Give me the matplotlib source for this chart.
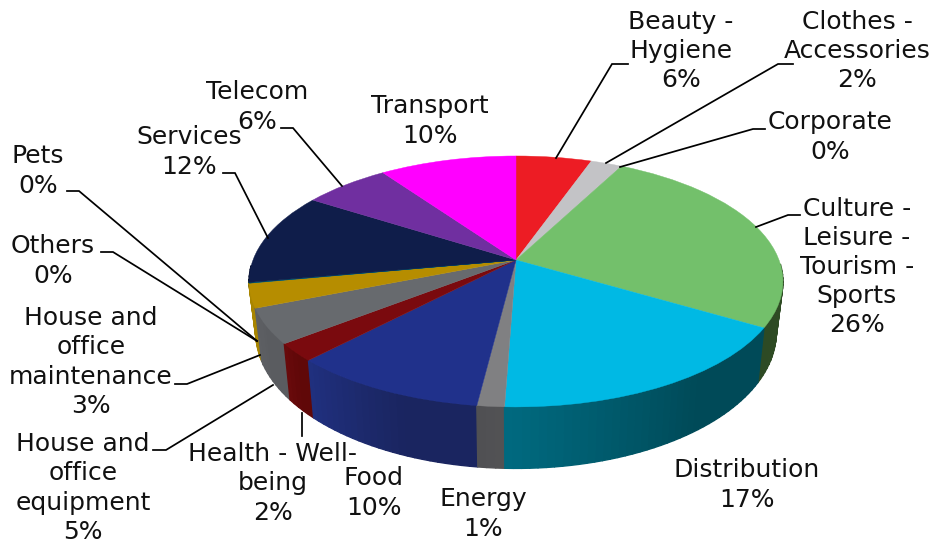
import numpy as np
import matplotlib
matplotlib.use("Agg")
import matplotlib.pyplot as plt
from matplotlib.transforms import Transform
from matplotlib.collections import PolyCollection

categories = ["Beauty - Hygiene", "Clothes - Accessories", "Corporate",
              "Culture - Leisure - Tourism - Sports", "Distribution", "Energy",
              "Food", "Health - Well-being", "House and office equipment",
              "House and office maintenance", "Others", "Pets", "Services",
              "Telecom", "Transport"]
values = [5.4, 2.2, 0.05, 25.9, 17.1, 1.4, 10.2, 2.3, 4.5, 3.1, 0.05, 0.05, 11.9, 6.2, 9.8]
percent_labels = ["6%", "2%", "0%", "26%", "17%", "1%", "10%", "2%", "5%", "3%", "0%", "0%", "12%", "6%", "10%"]

# styles
top_colors = ["#ed1c24", "#c3c3c6", "#c3c3c6", "#73c06b", "#00b9e4", "#808082", "#20318b",
              "#7a0a0e", "#676a6e", "#b68d00", "#005a70", "#005a70", "#0f1d4a", "#702fa0", "#ff00ff"]
wall_left = ["#8a1015", "#777777", "#777777", "#2d4a24", "#006a80", "#4f4f52", "#20307f",
             "#6a0a0c", "#5e6064", "#a88500", "#003a48", "#003a48", "#0a1230", "#451c66", "#990099"]
wall_right = ["#8a1015", "#777777", "#777777", "#334f26", "#004a58", "#525254", "#1a2560",
              "#600808", "#5a5c60", "#a88500", "#003a48", "#003a48", "#0a1230", "#451c66", "#990099"]

CX, CY, RX, RY_SCALE, K = 516.0, 260.0, 263.0, 121.8, 0.171
WALL_X, WALL_Y, WALL_D = 0.975, 1.085, 49.0


class Perspective(Transform):
    input_dims = output_dims = 2
    is_separable = False
    has_inverse = False

    def transform_non_affine(self, pts):
        pts = np.asarray(pts, float)
        u, v = pts[:, 0], pts[:, 1]
        w = 1 + K * v
        return np.column_stack([CX + RX * u / w, CY - RY_SCALE * v / w])


persp = Perspective()

fig = plt.figure(figsize=(9.31, 5.42), dpi=100)
ax = fig.add_axes([0, 0, 1, 1])
wedges, _ = ax.pie(values, colors=top_colors, startangle=90, counterclock=False,
                   radius=1, wedgeprops=dict(linewidth=0.3))
ax.set_aspect("auto")
ax.set_xlim(0, 931)
ax.set_ylim(542, 0)
ax.axis("off")

for w in wedges:
    w.set_transform(persp + ax.transData)
    w.set_zorder(5)
    w.set_edgecolor(w.get_facecolor())

# side wall
quads, cols, keys = [], [], []
for w, c0, c1 in zip(wedges, wall_left, wall_right):
    n = max(2, int((w.theta2 - w.theta1) / 1.5))
    t = np.radians(np.linspace(w.theta1, w.theta2, n + 1))
    top = persp.transform_non_affine(np.column_stack([np.cos(t), np.sin(t)]))
    bot = np.column_stack([CX + WALL_X * (top[:, 0] - CX),
                           CY + WALL_D + WALL_Y * (top[:, 1] - CY)])
    a, b = np.array(matplotlib.colors.to_rgb(c0)), np.array(matplotlib.colors.to_rgb(c1))
    for i in range(n):
        if np.sin(t[i]) > -0.02 or np.sin(t[i + 1]) > -0.02:
            continue
        f = min(1.0, (i + 0.5) / n * 1.6)
        quads.append([top[i], top[i + 1], bot[i + 1], bot[i]])
        cols.append(a * (1 - f) + b * f)
        keys.append(top[i, 1])
order = np.argsort(keys)
ax.add_collection(PolyCollection([quads[i] for i in order],
                                 facecolors=[cols[i] for i in order],
                                 edgecolors=[cols[i] for i in order],
                                 linewidths=1.0, antialiaseds=True, zorder=3))

# labels: text, centre x, centre y
label_layout = [
    ("Beauty -\nHygiene\n" + percent_labels[0], 681, 51),
    ("Clothes -\nAccessories\n" + percent_labels[1], 857, 51),
    ("Corporate\n" + percent_labels[2], 830, 137),
    ("Culture -\nLeisure -\nTourism -\nSports\n" + percent_labels[3], 857, 267),
    ("Distribution\n" + percent_labels[4], 747, 485),
    ("Energy\n" + percent_labels[5], 483, 514),
    ("Food\n" + percent_labels[6], 374, 493),
    ("Health - Well-", 273, 454),
    ("being\n" + percent_labels[7], 273, 498),
    ("House and\noffice\nequipment\n" + percent_labels[8], 83, 488),
    ("House and\noffice\nmaintenance\n" + percent_labels[9], 91, 362),
    ("Others\n" + percent_labels[10], 53, 261),
    ("Pets\n" + percent_labels[11], 38, 171),
    ("Services\n" + percent_labels[12], 189, 152),
    ("Telecom\n" + percent_labels[13], 257, 107),
    ("Transport\n" + percent_labels[14], 430, 121),
]
for s, x, y in label_layout:
    ax.text(x, y, s, ha="center", va="center", ma="center", fontsize=18,
            family="DejaVu Sans", color="#111111", linespacing=1.27, zorder=8)

leaders = [
    [(628, 64), (612, 64), (556, 158)],
    [(793, 64), (778, 64), (606, 163)],
    [(765, 129), (753, 129), (620, 167)],
    [(800, 215), (788, 215), (756, 227)],
    [(67, 191), (79, 191), (257, 341)],
    [(101, 252), (113, 252), (257, 341)],
    [(175, 384), (187, 384), (260, 355)],
    [(153, 450), (166, 450), (273, 385)],
    [(302, 436), (302, 413)],
    [(223, 173), (235, 173), (268, 238)],
    [(281, 128), (293, 128), (342, 186)],
]
for line in leaders:
    xs, ys = zip(*line)
    ax.plot(xs, ys, color="black", lw=1.25, zorder=7, solid_joinstyle="miter")

fig.savefig("out.png", dpi=100)
